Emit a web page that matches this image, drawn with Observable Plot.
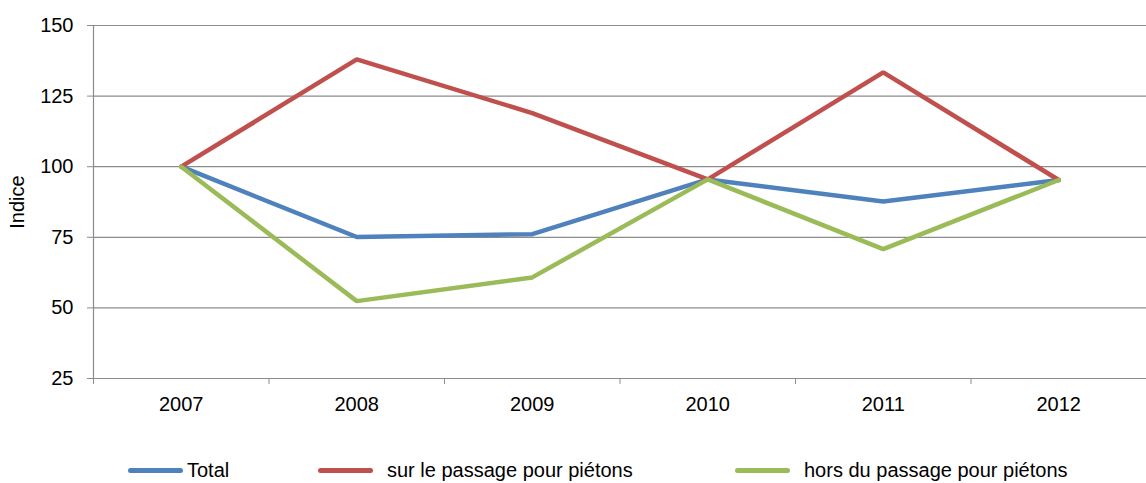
<!DOCTYPE html>
<html>
<head>
<meta charset="utf-8">
<script src="https://cdn.jsdelivr.net/npm/d3@7"></script>
<script src="https://cdn.jsdelivr.net/npm/@observablehq/plot@0.6"></script>
<style>
  html, body { margin: 0; padding: 0; background: #fff; }
  body { width: 1146px; height: 483px; overflow: hidden; font-family: "Liberation Sans", Arial, sans-serif; }
  #legend { position: relative; height: 30px; font-size: 20px; color: #000; margin-top: 9px; }
  .item { position: absolute; top: 0; display: flex; align-items: center; height: 26px; }
  .sw { display: inline-block; width: 55px; height: 5px; border-radius: 3px; margin-right: 6px; }
</style>
</head>
<body>
<div id="chart"></div>
<div id="legend"></div>
<script>
const years = [2007, 2008, 2009, 2010, 2011, 2012];
const total = [100, 75.1, 76.1, 95.5, 87.7, 95.3];
const surPassage = [100, 138, 119, 95.5, 133.4, 95.3];
const horsPassage = [100, 52.4, 60.8, 95.5, 70.8, 95.3];
const seriesNames = ["Total", "sur le passage pour piétons", "hors du passage pour piétons"];
const seriesColors = ["#4F81BD", "#C0504D", "#9BBB59"];
const yTicks = [25, 50, 75, 100, 125, 150];

const seriesValues = [total, surPassage, horsPassage];
const data = [];
seriesNames.forEach((name, i) => {
  years.forEach((yr, j) => data.push({series: name, year: yr, value: seriesValues[i][j]}));
});
const boundaries = years.map(y => y - 0.5).concat([years[years.length - 1] + 0.5]);

const chart = Plot.plot({
  width: 1146,
  height: 448,
  marginLeft: 93,
  marginRight: 0,
  marginTop: 25,
  marginBottom: 70,
  style: {fontFamily: "'Liberation Sans', Arial, sans-serif", fontSize: "20px", color: "#000", background: "#fff"},
  x: {domain: [years[0] - 0.5, years[years.length - 1] + 0.5]},
  y: {domain: [25, 150]},
  color: {domain: seriesNames, range: seriesColors},
  marks: [
    Plot.ruleY(yTicks, {stroke: "#8c8c8c", strokeWidth: 1.2}),
    Plot.ruleX([boundaries[0]], {y1: 150, y2: 25, stroke: "#8c8c8c", strokeWidth: 1.2}),
    Plot.axisY({ticks: yTicks, tickSize: 6, tickPadding: 14, stroke: "#8c8c8c", fill: "#000", fontSize: 20,
      label: "Indice", labelAnchor: "center", labelArrow: "none", labelOffset: 84}),
    Plot.axisX({ticks: boundaries, tickSize: 6, tickFormat: () => "", stroke: "#8c8c8c", label: null}),
    Plot.axisX({ticks: years, tickSize: 0, tickPadding: 18, tickFormat: d => String(d), fill: "#000", fontSize: 20, label: null}),
    Plot.line(data, {x: "year", y: "value", z: "series", stroke: "series", strokeWidth: 4.5, strokeLinejoin: "miter"})
  ]
});
document.getElementById("chart").appendChild(chart);

const legend = document.getElementById("legend");
const lefts = [128, 318, 735];
seriesNames.forEach((name, i) => {
  const it = document.createElement("div");
  it.className = "item";
  it.style.left = lefts[i] + "px";
  const sw = document.createElement("span");
  sw.className = "sw";
  sw.style.background = seriesColors[i];
  if (i > 0) sw.style.marginRight = "14px"; else sw.style.marginRight = "4px";
  it.appendChild(sw);
  const t = document.createElement("span");
  t.textContent = name;
  it.appendChild(t);
  legend.appendChild(it);
});
</script>
</body>
</html>
